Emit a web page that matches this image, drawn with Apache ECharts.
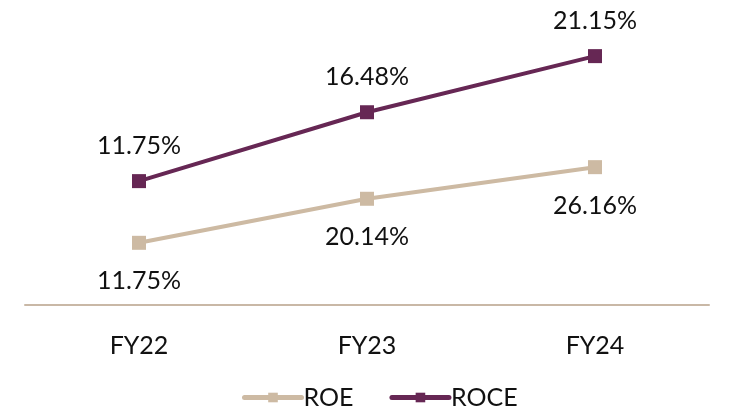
<!DOCTYPE html>
<html>
<head>
<meta charset="utf-8">
<script src="https://cdn.jsdelivr.net/npm/echarts@6/dist/echarts.min.js"></script>
<style>
  html, body { margin: 0; padding: 0; background: #fff; }
  #chart { width: 738px; height: 411px; }
</style>
</head>
<body>
<div id="chart"></div>
<script>
var years = ["FY22", "FY23", "FY24"];
// stacked line: ROCE sits on top of ROE
var roe = [11.75, 20.14, 26.16];
var roce = [11.75, 16.48, 21.15];

var myChart = echarts.init(document.getElementById("chart"));
var font = "Lato";

var option = {
  animation: false,
  textStyle: { fontFamily: font },
  grid: { left: 25, right: 29, top: 42, bottom: 106.5 },
  xAxis: {
    type: "category",
    data: years,
    axisLine: { lineStyle: { color: "#C9B8A6", width: 2 } },
    axisTick: { show: false },
    axisLabel: { color: "#111", fontSize: 25, margin: 29, fontFamily: font }
  },
  yAxis: {
    type: "value",
    min: 0,
    max: 50,
    show: false,
    splitLine: { show: false }
  },
  legend: {
    data: ["ROE", "ROCE"],
    top: 380,
    left: 237,
    itemWidth: 57,
    itemHeight: 12,
    itemGap: 36,
    lineStyle: { width: 5, cap: "round" },
    textStyle: { fontSize: 25, color: "#111", fontFamily: font, padding: [0, 0, 0, -3] }
  },
  series: [
    {
      name: "ROE",
      type: "line",
      stack: "total",
      data: roe,
      symbol: "rect",
      symbolSize: 14,
      color: "#CDBAA3",
      lineStyle: { width: 4 },
      label: {
        show: true,
        position: "bottom",
        distance: 19,
        fontSize: 25,
        color: "#111",
        fontFamily: font,
        formatter: function (p) { return roe[p.dataIndex].toFixed(2) + "%"; }
      }
    },
    {
      name: "ROCE",
      type: "line",
      stack: "total",
      data: roce,
      symbol: "rect",
      symbolSize: 14,
      color: "#662754",
      lineStyle: { width: 4 },
      label: {
        show: true,
        position: "top",
        distance: 16,
        fontSize: 25,
        color: "#111",
        fontFamily: font,
        formatter: function (p) { return roce[p.dataIndex].toFixed(2) + "%"; }
      }
    }
  ]
};
myChart.setOption(option);
window.addEventListener("resize", function () {
  myChart.resize();
});
</script>
</body>
</html>
